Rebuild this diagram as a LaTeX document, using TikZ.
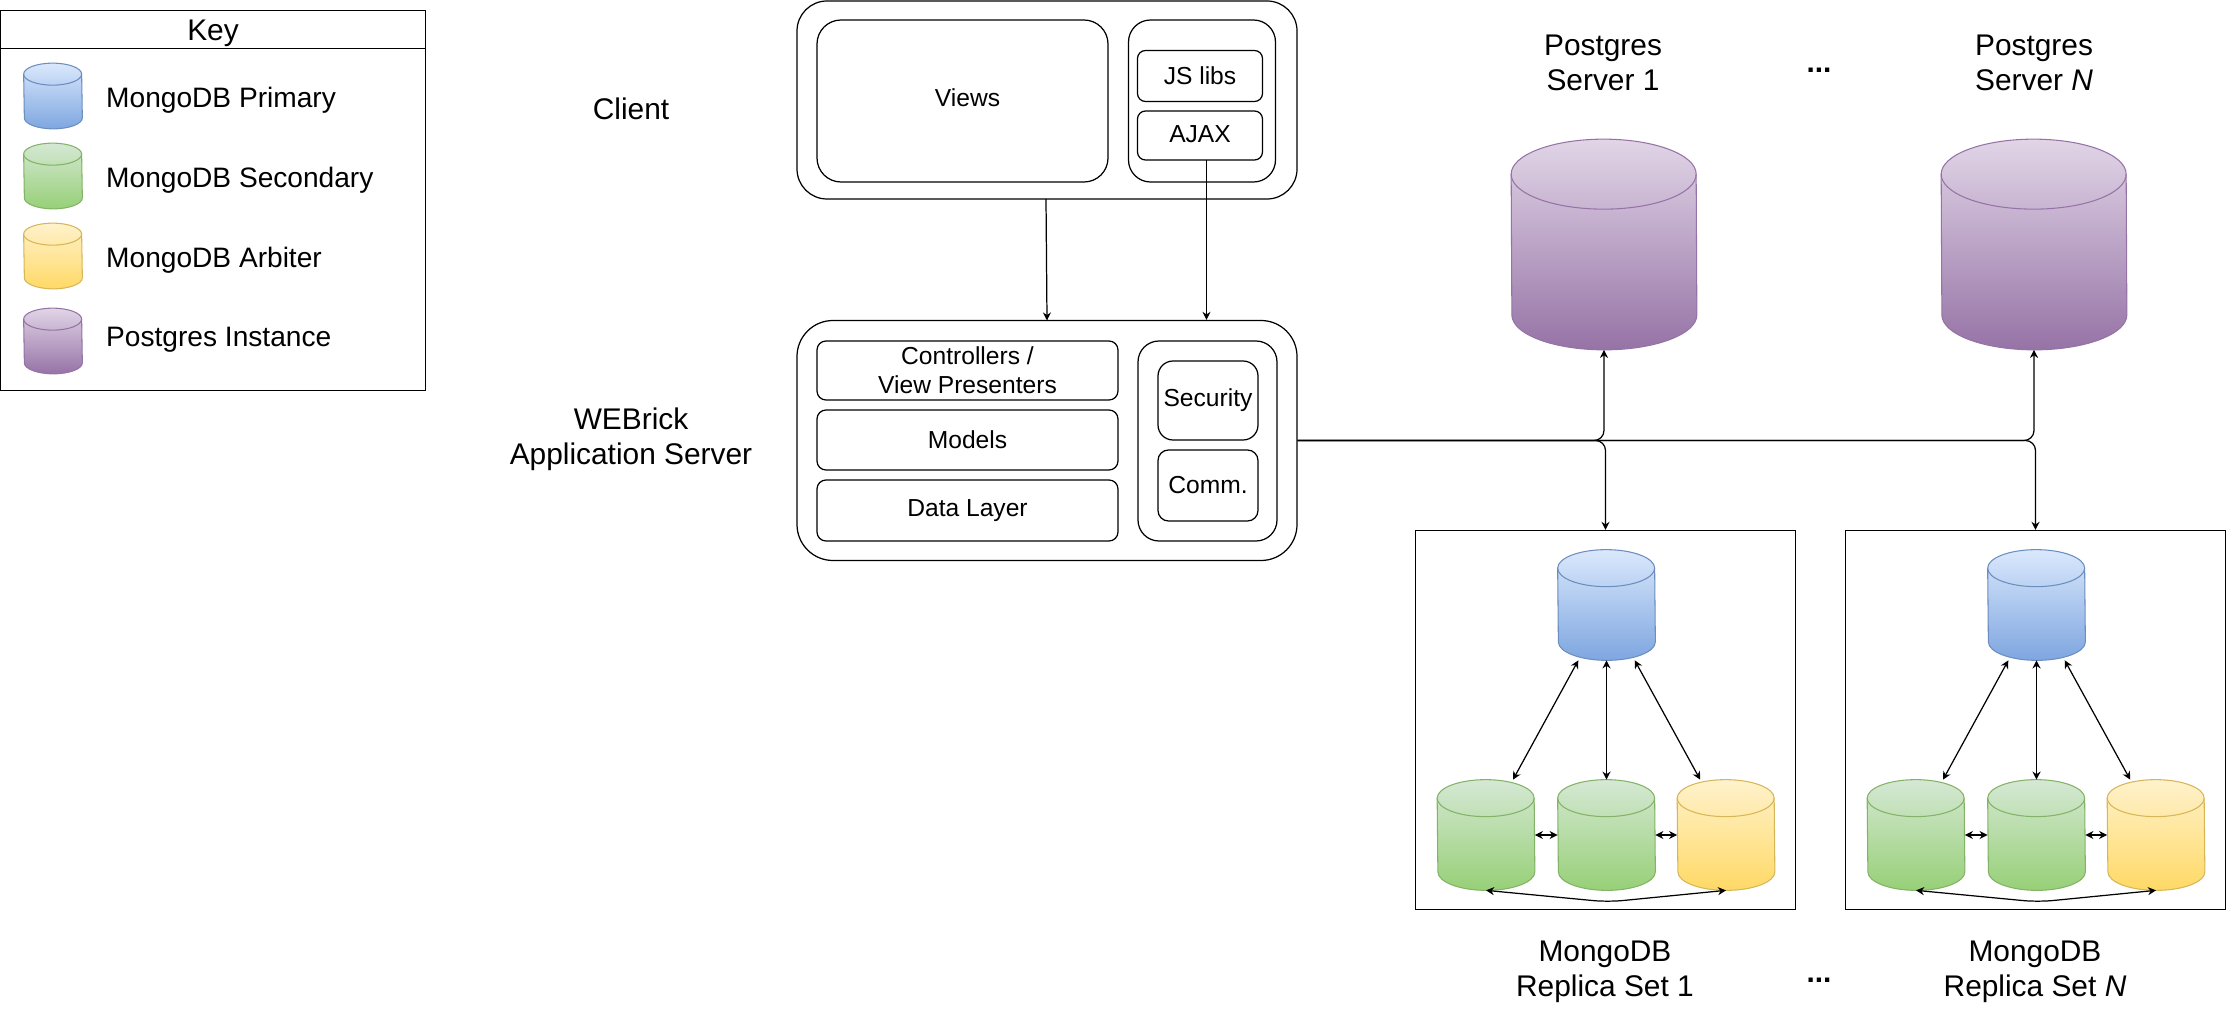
\documentclass[tikz,border=0pt]{standalone}
\usepackage{fontspec}
\setmainfont{Liberation Sans}
\usepackage{xcolor}
\usetikzlibrary{arrows.meta, positioning, calc}
\definecolor{BlueTop}{HTML}{DAE8FC}
\definecolor{BlueEnd}{HTML}{7EA6E0}
\definecolor{BlueLine}{HTML}{6C8EBF}
\definecolor{GreenTop}{HTML}{D5E8D4}
\definecolor{GreenEnd}{HTML}{97D077}
\definecolor{GreenLine}{HTML}{82B366}
\definecolor{YellowTop}{HTML}{FFF2CC}
\definecolor{YellowEnd}{HTML}{FFD966}
\definecolor{YellowLine}{HTML}{D6B656}
\definecolor{PurpleTop}{HTML}{E1D5E7}
\definecolor{PurpleEnd}{HTML}{9673A6}
\definecolor{PurpleLine}{HTML}{9673A6}
\tikzset{
    line/.style={line width=0.7pt, draw=black},
    link/.style={line, -{Stealth[length=4.6pt,width=4.6pt]}},
    duplex/.style={line, {Stealth[length=4.6pt,width=4.6pt]}-{Stealth[length=4.6pt,width=4.6pt]}},
    box/.style={line, rounded corners=#1, inner sep=0pt, align=center, font=\fontsize{14}{16.5}\selectfont},
    heading/.style={align=center, font=\fontsize{17}{20}\selectfont},
    keytext/.style={anchor=west, font=\fontsize{16}{19}\selectfont},
    drum/.style={inner sep=0pt, minimum width=1.94cm, minimum height=2.2cm},
    keydrum/.style={inner sep=0pt, minimum width=1.16cm, minimum height=1.3cm},
    bigdrum/.style={inner sep=0pt, minimum width=3.7cm, minimum height=4.2cm},
}
% node, colour, x radius, y radius
\newcommand{\drumdraw}[4]{
    \draw[line width=0.6pt, draw=#2Line, top color=#2Top, bottom color=#2End]
        ($(#1.north west)+(0,#4)$) arc[start angle=180, end angle=0, x radius=#3cm, y radius=#4cm]
        -- ($(#1.south east)+(0,-#4)$) arc[start angle=0, end angle=-180, x radius=#3cm, y radius=#4cm] -- cycle;
    \draw[line width=0.6pt, draw=#2Line]
        ($(#1.north west)+(0,#4)$) arc[start angle=180, end angle=360, x radius=#3cm, y radius=#4cm];
}
\begin{document}
\begin{tikzpicture}[x=1cm, y=-1cm]
    \useasboundingbox (0,0) rectangle (44.54,20.56);

    % Key
    \node[line, draw, minimum width=8.5cm, minimum height=7.6cm, inner sep=0pt] (keyBox) at (4.26,4.01) {};
    \node[line, draw, minimum width=8.5cm, minimum height=0.76cm, inner sep=0pt, text height=0.55cm, font=\fontsize{17}{20}\selectfont] (keyTitle) at (4.26,0.59) {Key};
    \node[keydrum] (keyPrimary) at (1.06,1.92) {};
    \node[keydrum] (keySecondary) at (1.06,3.52) {};
    \node[keydrum] (keyArbiter) at (1.06,5.12) {};
    \node[keydrum] (keyPostgres) at (1.06,6.82) {};
    \drumdraw{keyPrimary}{Blue}{0.58}{0.22}
    \drumdraw{keySecondary}{Green}{0.58}{0.22}
    \drumdraw{keyArbiter}{Yellow}{0.58}{0.22}
    \drumdraw{keyPostgres}{Purple}{0.58}{0.22}
    \node[keytext] (keyPrimaryText) at (2.0,2.0) {MongoDB Primary};
    \node[keytext] (keySecondaryText) at (2.0,3.6) {MongoDB Secondary};
    \node[keytext] (keyArbiterText) at (2.0,5.2) {MongoDB Arbiter};
    \node[keytext] (keyPostgresText) at (2.0,6.8) {Postgres Instance};

    % Client
    \node[heading] (clientLabel) at (12.62,2.18) {Client};
    \node[box=0.6cm, draw, minimum width=10.0cm, minimum height=3.96cm] (client) at (20.94,2.0) {};
    \node[box=0.48cm, draw, minimum width=5.82cm, minimum height=3.24cm, text depth=0.12cm] (views) at (19.25,2.02) {\hspace*{0.2cm}Views};
    \node[box=0.44cm, draw, minimum width=2.94cm, minimum height=3.24cm] (clientLibs) at (24.04,2.02) {};
    \node[box=0.16cm, draw, minimum width=2.5cm, minimum height=1.02cm] (jsLibs) at (24.0,1.52) {JS libs};
    \node[box=0.16cm, draw, minimum width=2.5cm, minimum height=0.98cm, text depth=0.06cm] (ajax) at (24.0,2.71) {AJAX};

    % Application server
    \node[heading] (appLabel) at (12.62,8.78) {WEBrick\\Application Server};
    \node[box=0.72cm, draw, minimum width=10.0cm, minimum height=4.8cm] (app) at (20.94,8.81) {};
    \node[box=0.18cm, draw, minimum width=6.02cm, minimum height=1.18cm] (controllers) at (19.35,7.41) {Controllers /\\View Presenters};
    \node[box=0.18cm, draw, minimum width=6.02cm, minimum height=1.2cm] (models) at (19.35,8.8) {Models};
    \node[box=0.18cm, draw, minimum width=6.02cm, minimum height=1.22cm] (dataLayer) at (19.35,10.21) {Data Layer};
    \node[box=0.42cm, draw, minimum width=2.78cm, minimum height=4.0cm] (appSide) at (24.15,8.82) {};
    \node[box=0.3cm, draw, minimum width=2.0cm, minimum height=1.58cm] (security) at (24.16,8.01) {Security};
    \node[box=0.21cm, draw, minimum width=2.0cm, minimum height=1.42cm] (comm) at (24.16,9.71) {Comm.};

    % Postgres
    \node[heading] (pgLabelA) at (32.06,1.26) {Postgres\\Server 1};
    \node[heading] (pgLabelN) at (40.68,1.26) {Postgres\\Server \textit{N}};
    \node[heading] (dotsTop) at (36.38,1.4) {\textbf{...}};
    \node[bigdrum] (pgA) at (32.08,4.89) {};
    \node[bigdrum] (pgN) at (40.68,4.89) {};
    \drumdraw{pgA}{Purple}{1.85}{0.7}
    \drumdraw{pgN}{Purple}{1.85}{0.7}

    % Replica set 1
    \node[line, draw, minimum width=7.6cm, minimum height=7.58cm, inner sep=0pt] (setA) at (32.11,14.4) {};
    \node[drum] (primaryA) at (32.13,12.1) {};
    \node[drum] (secondA) at (29.72,16.7) {};
    \node[drum] (thirdA) at (32.13,16.7) {};
    \node[drum] (arbiterA) at (34.52,16.7) {};
    \drumdraw{primaryA}{Blue}{0.97}{0.37}
    \drumdraw{secondA}{Green}{0.97}{0.37}
    \drumdraw{thirdA}{Green}{0.97}{0.37}
    \drumdraw{arbiterA}{Yellow}{0.97}{0.37}
    \coordinate (dipA) at (32.16,18.04);
    \node[heading] (setLabelA) at (32.1,19.44) {MongoDB\\Replica Set 1};

    % Replica set N
    \node[line, draw, minimum width=7.6cm, minimum height=7.58cm, inner sep=0pt] (setN) at (40.71,14.4) {};
    \node[drum] (primaryN) at (40.73,12.1) {};
    \node[drum] (secondN) at (38.32,16.7) {};
    \node[drum] (thirdN) at (40.73,16.7) {};
    \node[drum] (arbiterN) at (43.12,16.7) {};
    \drumdraw{primaryN}{Blue}{0.97}{0.37}
    \drumdraw{secondN}{Green}{0.97}{0.37}
    \drumdraw{thirdN}{Green}{0.97}{0.37}
    \drumdraw{arbiterN}{Yellow}{0.97}{0.37}
    \coordinate (dipN) at (40.76,18.04);
    \node[heading] (setLabelN) at (40.7,19.44) {MongoDB\\Replica Set \textit{N}};
    \node[heading] (dotsLow) at (36.38,19.6) {\textbf{...}};

    % Connections
    \coordinate (viewsOut) at (20.92,3.98);
    \coordinate (viewsIn) at (20.94,6.41);
    \coordinate (ajaxOut) at (24.13,3.2);
    \draw[link] (viewsOut) -- (viewsIn);
    \draw[link] (ajaxOut) -- (ajaxOut |- app.north);
    \draw[link, rounded corners=0.2cm] (app.east) -| (pgA.south);
    \draw[link, rounded corners=0.2cm] (app.east) -| (setA.north);
    \draw[link, rounded corners=0.2cm] (app.east) -| (pgN.south);
    \draw[link, rounded corners=0.2cm] (app.east) -| (setN.north);

    % Replica links
    \draw[duplex] (primaryA.-117) -- (secondA.64);
    \draw[duplex] (primaryA.south) -- (thirdA.north);
    \draw[duplex] (primaryA.-63) -- (arbiterA.115);
    \draw[duplex] (secondA.east) -- (thirdA.west);
    \draw[duplex] (thirdA.east) -- (arbiterA.west);
    \draw[duplex, rounded corners=0.3cm] (secondA.south) -- (dipA) -- (arbiterA.south);
    \draw[duplex] (primaryN.-117) -- (secondN.64);
    \draw[duplex] (primaryN.south) -- (thirdN.north);
    \draw[duplex] (primaryN.-63) -- (arbiterN.115);
    \draw[duplex] (secondN.east) -- (thirdN.west);
    \draw[duplex] (thirdN.east) -- (arbiterN.west);
    \draw[duplex, rounded corners=0.3cm] (secondN.south) -- (dipN) -- (arbiterN.south);
\end{tikzpicture}
\end{document}
